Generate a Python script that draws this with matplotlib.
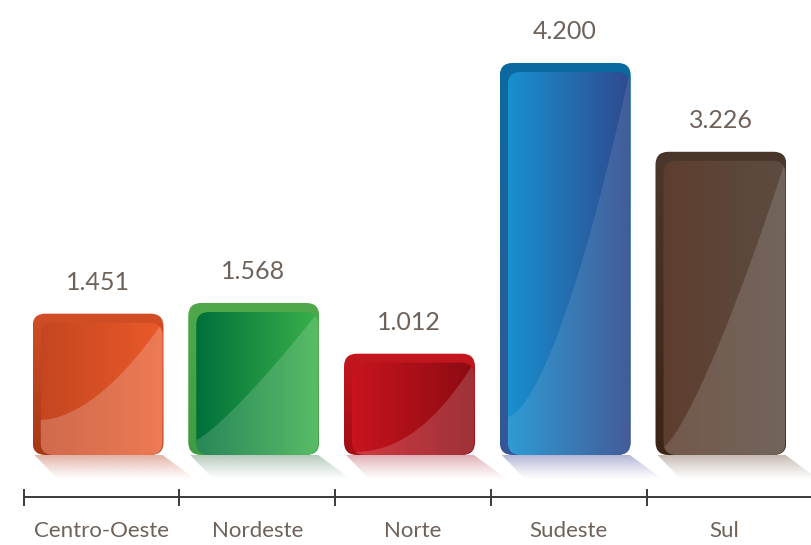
import numpy as np
import matplotlib
matplotlib.use("Agg")
import matplotlib.pyplot as plt
import matplotlib.patches as patches
from matplotlib.colors import LinearSegmentedColormap, to_rgb

regions = ["Centro-Oeste", "Nordeste", "Norte", "Sudeste", "Sul"]
values = [1451, 1568, 1012, 4200, 3226]

# cores: borda (topo, base), gradiente interno (esq, dir), sombra
edge_top = ["#d24e26", "#4fa94c", "#c4171f", "#0a6aa0", "#4a382c"]
edge_bot = ["#a63814", "#3f9c42", "#a20d14", "#355696", "#3c2416"]
inner_left = ["#c44620", "#00703a", "#c8141e", "#1890d0", "#5e3e2e"]
inner_right = ["#ea5a2a", "#39b04a", "#8c0b13", "#2f4a8e", "#5c4c42"]
shadow_colors = ["#e3b3a6", "#b5cbbb", "#e0b0b6", "#b4b6d6", "#c6bab2"]
# brilho: inicio (px acima da base), expoente da curva, opacidade
hl_start = [35, 15, 3, 38, 8]
hl_exp = [1.8, 1.2, 2.2, 1.6, 1.3]
hl_alpha = [0.2, 0.16, 0.16, 0.1, 0.14]

W, H = 812, 545
fig = plt.figure(figsize=(W / 100, H / 100), dpi=100)
ax = fig.add_axes([0, 0, 1, 1])
xmin, xmax = -0.6517, 4.5618
ymin, ymax = -987, 4989
sx = W / (xmax - xmin)   # px por unidade x
sy = H / (ymax - ymin)   # px por unidade y
px = lambda d: d / sx
py = lambda d: d / sy

bar_w = px(122)
rad = px(13)
asp = sx / sy


def grad(c1, c2, extent, clip, z, vertical=False):
    cmap = LinearSegmentedColormap.from_list("g", [c1, c2])
    arr = np.linspace(0, 1, 256)
    arr = arr[:, None] if vertical else arr[None, :]
    im = ax.imshow(arr, cmap=cmap, extent=extent, aspect="auto", zorder=z,
                   interpolation="bicubic")
    im.set_clip_path(clip)


for i, v in enumerate(values):
    left = i - bar_w / 2
    right = i + bar_w / 2
    # sombra
    sh = patches.Polygon([(left - px(6), 0), (right, 0), (right + px(34), py(-25)),
                          (left + px(18), py(-25))], closed=True, fc="none", ec="none")
    ax.add_patch(sh)
    rgba = np.zeros((64, 1, 4))
    rgba[:, 0, :3] = to_rgb(shadow_colors[i])
    rgba[:, 0, 3] = np.linspace(1.0, 0.0, 64) ** 1.2
    im = ax.imshow(rgba, extent=[left - px(8), right + px(36), py(-25), 0],
                   aspect="auto", zorder=1)
    im.set_clip_path(sh)

    # corpo externo
    outer = patches.FancyBboxPatch((left - px(8), 0), bar_w + px(9), v + py(9),
                                   boxstyle=f"round,pad=0,rounding_size={rad}",
                                   mutation_aspect=asp, fc="none", ec="none", zorder=2)
    ax.add_patch(outer)
    grad(edge_top[i], edge_bot[i], [left - px(8), right + px(1), 0, v + py(9)], outer, 2,
         vertical=True)
    # corpo interno com gradiente
    inner = patches.FancyBboxPatch((left, 0), bar_w, v,
                                   boxstyle=f"round,pad=0,rounding_size={rad}",
                                   mutation_aspect=asp, fc="none", ec="none", zorder=3)
    ax.add_patch(inner)
    grad(inner_left[i], inner_right[i], [left, right, 0, v], inner, 3)

    # brilho inferior
    t = np.linspace(0, 1, 80)
    a = py(hl_start[i]) / v
    cx = left + t * bar_w
    cy = v * (a + (1 - a) * t ** hl_exp[i])
    pts = list(zip(cx, cy)) + [(right + px(2), v), (right + px(2), 0), (left, 0)]
    hl = patches.Polygon(pts, closed=True, fc="white", ec="none", alpha=hl_alpha[i], zorder=4)
    ax.add_patch(hl)
    hl.set_clip_path(inner)

    ax.text(i - px(4), v + py(40), f"{v:,}".replace(",", "."), ha="center", va="center",
            fontsize=18, color="#6e6259", family="Lato")

# eixo
axis_y = py(-42)
ax.plot([-0.5, xmax], [axis_y, axis_y], color="#3a3a3a", lw=1.4, zorder=5)
for i in range(len(regions)):
    ax.plot([i - 0.5, i - 0.5], [py(-35), py(-50)], color="#3a3a3a", lw=1.4, zorder=5)
    ax.text(i, py(-76), regions[i], ha="center", va="center", fontsize=16,
            color="#6e6259", family="Lato")

ax.set_xlim(xmin, xmax)
ax.set_ylim(ymin, ymax)
ax.axis("off")
fig.savefig("out.png", dpi=100)
